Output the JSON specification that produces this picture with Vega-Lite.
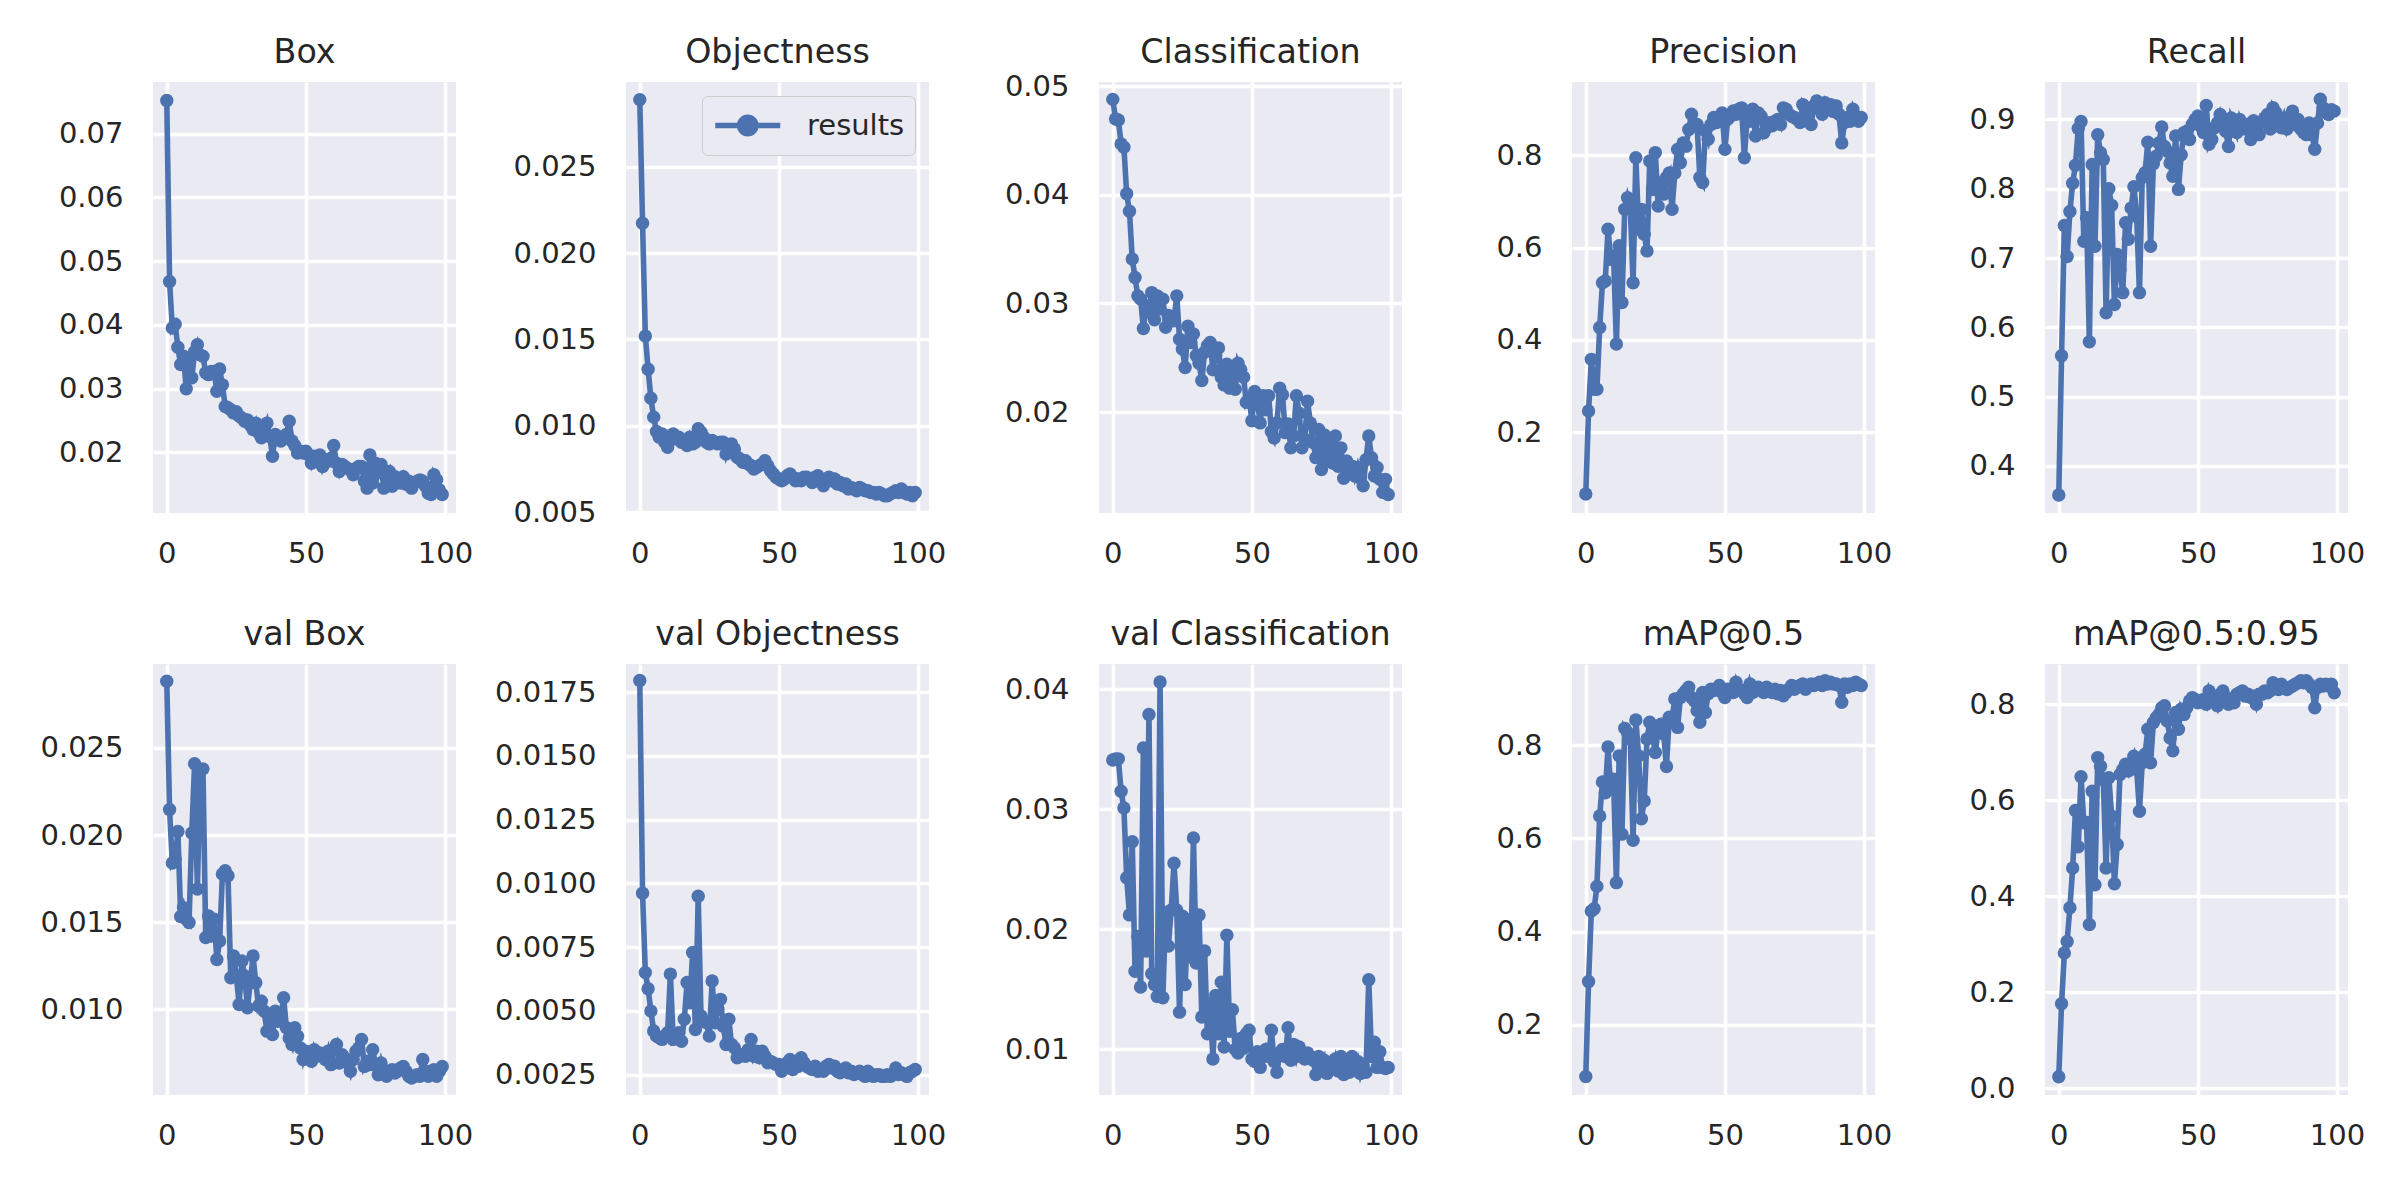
{
"$schema": "https://vega.github.io/schema/vega-lite/v6.json",
"background": "white",
"padding": {"left": 39, "top": 35, "right": 20, "bottom": 10},
"bounds": "flush",
"columns": 5,
"spacing": {"row": 151, "column": 170},
"resolve": {"legend": {"color": "independent"}, "scale": {"color": "independent"}},
"config": {
  "font": "DejaVu Sans",
  "view": {"fill": "#EAEAF2", "stroke": null},
  "axis": {"domain": false, "ticks": false, "grid": true, "gridColor": "white", "gridWidth": 3.5, "labelFont": "DejaVu Sans", "labelFontSize": 29, "labelColor": "#262626", "labelPadding": 30, "labelFlush": false, "labelOverlap": false},
  "axisX": {"labelPadding": 26},
  "title": {"fontSize": 33.3, "fontWeight": "normal", "color": "#262626", "font": "DejaVu Sans", "offset": 12, "baseline": "bottom", "frame": "group"},
  "line": {"color": "#4C72B0", "strokeWidth": 5.6},
  "point": {"color": "#4C72B0", "filled": true, "size": 180, "opacity": 1}
},
"data": {"values": [
{"e":0,"box":0.0752,"obj":0.02888,"cls":0.0488,"p":0.066,"r":0.358,"vbox":0.02881,"vobj":0.01795,"vcls":0.0341,"m50":0.089,"m95":0.024},
{"e":1,"box":0.0468,"obj":0.02172,"cls":0.0470,"p":0.246,"r":0.559,"vbox":0.02146,"vobj":0.00961,"vcls":0.0342,"m50":0.293,"m95":0.176},
{"e":2,"box":0.0395,"obj":0.01519,"cls":0.0469,"p":0.358,"r":0.747,"vbox":0.01839,"vobj":0.0065,"vcls":0.0342,"m50":0.444,"m95":0.282},
{"e":3,"box":0.0401,"obj":0.01327,"cls":0.0447,"p":0.293,"r":0.702,"vbox":0.01862,"vobj":0.00587,"vcls":0.0315,"m50":0.449,"m95":0.306},
{"e":4,"box":0.0365,"obj":0.01159,"cls":0.0444,"p":0.293,"r":0.767,"vbox":0.0202,"vobj":0.00499,"vcls":0.0301,"m50":0.497,"m95":0.376},
{"e":5,"box":0.0338,"obj":0.0105,"cls":0.0401,"p":0.427,"r":0.808,"vbox":0.01533,"vobj":0.00421,"vcls":0.0243,"m50":0.648,"m95":0.459},
{"e":6,"box":0.0351,"obj":0.00967,"cls":0.0385,"p":0.524,"r":0.834,"vbox":0.01584,"vobj":0.00401,"vcls":0.0212,"m50":0.721,"m95":0.579},
{"e":7,"box":0.0300,"obj":0.00934,"cls":0.0341,"p":0.528,"r":0.887,"vbox":0.01517,"vobj":0.00394,"vcls":0.0273,"m50":0.698,"m95":0.503},
{"e":8,"box":0.0340,"obj":0.00953,"cls":0.0324,"p":0.640,"r":0.897,"vbox":0.01498,"vobj":0.00388,"vcls":0.0165,"m50":0.796,"m95":0.649},
{"e":9,"box":0.0317,"obj":0.00905,"cls":0.0307,"p":0.575,"r":0.724,"vbox":0.02011,"vobj":0.00401,"vcls":0.0194,"m50":0.705,"m95":0.553},
{"e":10,"box":0.0358,"obj":0.00876,"cls":0.0304,"p":0.582,"r":0.758,"vbox":0.02408,"vobj":0.00414,"vcls":0.0152,"m50":0.727,"m95":0.554},
{"e":11,"box":0.0369,"obj":0.00934,"cls":0.0277,"p":0.391,"r":0.579,"vbox":0.0169,"vobj":0.00644,"vcls":0.0351,"m50":0.505,"m95":0.341},
{"e":12,"box":0.0353,"obj":0.00953,"cls":0.0298,"p":0.604,"r":0.835,"vbox":0.0237,"vobj":0.00388,"vcls":0.0182,"m50":0.777,"m95":0.619},
{"e":13,"box":0.0351,"obj":0.00924,"cls":0.0292,"p":0.481,"r":0.717,"vbox":0.02379,"vobj":0.00401,"vcls":0.0379,"m50":0.609,"m95":0.424},
{"e":14,"box":0.0325,"obj":0.00934,"cls":0.0310,"p":0.683,"r":0.878,"vbox":0.01412,"vobj":0.00414,"vcls":0.0163,"m50":0.836,"m95":0.689},
{"e":15,"box":0.0322,"obj":0.00905,"cls":0.0285,"p":0.708,"r":0.852,"vbox":0.01536,"vobj":0.00381,"vcls":0.0154,"m50":0.827,"m95":0.671},
{"e":16,"box":0.0327,"obj":0.00915,"cls":0.0307,"p":0.687,"r":0.842,"vbox":0.01421,"vobj":0.00467,"vcls":0.0144,"m50":0.813,"m95":0.643},
{"e":17,"box":0.0327,"obj":0.00886,"cls":0.0295,"p":0.524,"r":0.621,"vbox":0.01517,"vobj":0.00611,"vcls":0.0406,"m50":0.596,"m95":0.459},
{"e":18,"box":0.0296,"obj":0.00934,"cls":0.0304,"p":0.795,"r":0.800,"vbox":0.01287,"vobj":0.00532,"vcls":0.0143,"m50":0.854,"m95":0.647},
{"e":19,"box":0.0331,"obj":0.00895,"cls":0.0278,"p":0.640,"r":0.776,"vbox":0.01393,"vobj":0.00729,"vcls":0.0214,"m50":0.777,"m95":0.567},
{"e":20,"box":0.0306,"obj":0.00905,"cls":0.0289,"p":0.683,"r":0.633,"vbox":0.01776,"vobj":0.00427,"vcls":0.0186,"m50":0.642,"m95":0.426},
{"e":21,"box":0.0272,"obj":0.00983,"cls":0.0285,"p":0.629,"r":0.705,"vbox":0.01795,"vobj":0.00949,"vcls":0.0216,"m50":0.680,"m95":0.508},
{"e":22,"box":0.0270,"obj":0.00963,"cls":0.0284,"p":0.593,"r":0.683,"vbox":0.01766,"vobj":0.0048,"vcls":0.0255,"m50":0.813,"m95":0.654},
{"e":23,"box":0.0267,"obj":0.00934,"cls":0.0307,"p":0.788,"r":0.650,"vbox":0.01182,"vobj":0.0046,"vcls":0.0216,"m50":0.849,"m95":0.664},
{"e":24,"box":0.0262,"obj":0.00905,"cls":0.0267,"p":0.726,"r":0.751,"vbox":0.01307,"vobj":0.00453,"vcls":0.0131,"m50":0.820,"m95":0.675},
{"e":25,"box":0.0264,"obj":0.00895,"cls":0.0258,"p":0.806,"r":0.727,"vbox":0.01192,"vobj":0.00401,"vcls":0.0211,"m50":0.784,"m95":0.661},
{"e":26,"box":0.0257,"obj":0.00915,"cls":0.0241,"p":0.690,"r":0.772,"vbox":0.01029,"vobj":0.00617,"vcls":0.0154,"m50":0.834,"m95":0.678},
{"e":27,"box":0.0254,"obj":0.00905,"cls":0.0279,"p":0.741,"r":0.803,"vbox":0.01278,"vobj":0.00453,"vcls":0.0208,"m50":0.845,"m95":0.692},
{"e":28,"box":0.0249,"obj":0.00895,"cls":0.0264,"p":0.716,"r":0.760,"vbox":0.01192,"vobj":0.00506,"vcls":0.0177,"m50":0.824,"m95":0.664},
{"e":29,"box":0.0251,"obj":0.00905,"cls":0.0272,"p":0.752,"r":0.650,"vbox":0.0101,"vobj":0.00545,"vcls":0.0276,"m50":0.754,"m95":0.577},
{"e":30,"box":0.0243,"obj":0.00905,"cls":0.0252,"p":0.762,"r":0.816,"vbox":0.01153,"vobj":0.0044,"vcls":0.0172,"m50":0.860,"m95":0.678},
{"e":31,"box":0.0236,"obj":0.00837,"cls":0.0245,"p":0.683,"r":0.823,"vbox":0.01307,"vobj":0.00368,"vcls":0.0212,"m50":0.856,"m95":0.696},
{"e":32,"box":0.0246,"obj":0.00886,"cls":0.0229,"p":0.762,"r":0.867,"vbox":0.01153,"vobj":0.00467,"vcls":0.0127,"m50":0.899,"m95":0.748},
{"e":33,"box":0.0231,"obj":0.00895,"cls":0.0255,"p":0.813,"r":0.717,"vbox":0.0102,"vobj":0.00368,"vcls":0.0182,"m50":0.838,"m95":0.678},
{"e":34,"box":0.0223,"obj":0.00866,"cls":0.0261,"p":0.784,"r":0.836,"vbox":0.01048,"vobj":0.00355,"vcls":0.0113,"m50":0.902,"m95":0.762},
{"e":35,"box":0.0233,"obj":0.00818,"cls":0.0264,"p":0.827,"r":0.847,"vbox":0.0099,"vobj":0.00316,"vcls":0.0138,"m50":0.910,"m95":0.772},
{"e":36,"box":0.0246,"obj":0.00808,"cls":0.0239,"p":0.820,"r":0.866,"vbox":0.00876,"vobj":0.00322,"vcls":0.0092,"m50":0.917,"m95":0.779},
{"e":37,"box":0.0225,"obj":0.00789,"cls":0.0252,"p":0.856,"r":0.889,"vbox":0.00962,"vobj":0.00329,"vcls":0.0145,"m50":0.924,"m95":0.793},
{"e":38,"box":0.0194,"obj":0.00798,"cls":0.0259,"p":0.889,"r":0.861,"vbox":0.00856,"vobj":0.00322,"vcls":0.0113,"m50":0.902,"m95":0.797},
{"e":39,"box":0.0228,"obj":0.00779,"cls":0.0232,"p":0.864,"r":0.854,"vbox":0.0099,"vobj":0.00348,"vcls":0.0156,"m50":0.895,"m95":0.765},
{"e":40,"box":0.0225,"obj":0.00769,"cls":0.0225,"p":0.867,"r":0.837,"vbox":0.00933,"vobj":0.00388,"vcls":0.0102,"m50":0.874,"m95":0.730},
{"e":41,"box":0.0218,"obj":0.0075,"cls":0.0244,"p":0.752,"r":0.818,"vbox":0.00962,"vobj":0.00322,"vcls":0.0195,"m50":0.849,"m95":0.703},
{"e":42,"box":0.0223,"obj":0.0076,"cls":0.0222,"p":0.741,"r":0.876,"vbox":0.01067,"vobj":0.00342,"vcls":0.0115,"m50":0.913,"m95":0.783},
{"e":43,"box":0.0228,"obj":0.00769,"cls":0.0242,"p":0.853,"r":0.799,"vbox":0.00895,"vobj":0.00316,"vcls":0.0133,"m50":0.870,"m95":0.748},
{"e":44,"box":0.0249,"obj":0.00779,"cls":0.0221,"p":0.835,"r":0.849,"vbox":0.00837,"vobj":0.00342,"vcls":0.0100,"m50":0.910,"m95":0.790},
{"e":45,"box":0.0218,"obj":0.00798,"cls":0.0245,"p":0.867,"r":0.881,"vbox":0.00799,"vobj":0.00322,"vcls":0.0097,"m50":0.920,"m95":0.779},
{"e":46,"box":0.0211,"obj":0.00769,"cls":0.0239,"p":0.882,"r":0.883,"vbox":0.00895,"vobj":0.00296,"vcls":0.0109,"m50":0.917,"m95":0.793},
{"e":47,"box":0.0199,"obj":0.0074,"cls":0.0232,"p":0.871,"r":0.871,"vbox":0.00847,"vobj":0.00302,"vcls":0.0101,"m50":0.920,"m95":0.807},
{"e":48,"box":0.0202,"obj":0.00721,"cls":0.0209,"p":0.878,"r":0.893,"vbox":0.0078,"vobj":0.00296,"vcls":0.0113,"m50":0.928,"m95":0.814},
{"e":49,"box":0.0199,"obj":0.00702,"cls":0.0213,"p":0.892,"r":0.900,"vbox":0.00713,"vobj":0.0029,"vcls":0.0116,"m50":0.913,"m95":0.810},
{"e":50,"box":0.0202,"obj":0.00692,"cls":0.0192,"p":0.813,"r":0.905,"vbox":0.00761,"vobj":0.0029,"vcls":0.0092,"m50":0.902,"m95":0.803},
{"e":51,"box":0.0196,"obj":0.00682,"cls":0.0219,"p":0.878,"r":0.890,"vbox":0.00732,"vobj":0.00263,"vcls":0.0090,"m50":0.920,"m95":0.807},
{"e":52,"box":0.0183,"obj":0.00692,"cls":0.0209,"p":0.885,"r":0.881,"vbox":0.00703,"vobj":0.00283,"vcls":0.0098,"m50":0.917,"m95":0.810},
{"e":53,"box":0.0194,"obj":0.00711,"cls":0.0190,"p":0.896,"r":0.920,"vbox":0.0077,"vobj":0.00296,"vcls":0.0085,"m50":0.913,"m95":0.800},
{"e":54,"box":0.0191,"obj":0.00721,"cls":0.0215,"p":0.889,"r":0.864,"vbox":0.00732,"vobj":0.00309,"vcls":0.0094,"m50":0.935,"m95":0.828},
{"e":55,"box":0.0196,"obj":0.00702,"cls":0.0202,"p":0.900,"r":0.871,"vbox":0.00751,"vobj":0.0027,"vcls":0.0100,"m50":0.920,"m95":0.814},
{"e":56,"box":0.0178,"obj":0.00682,"cls":0.0215,"p":0.903,"r":0.888,"vbox":0.00741,"vobj":0.0029,"vcls":0.0094,"m50":0.917,"m95":0.810},
{"e":57,"box":0.0189,"obj":0.00692,"cls":0.0182,"p":0.795,"r":0.895,"vbox":0.00713,"vobj":0.00283,"vcls":0.0116,"m50":0.910,"m95":0.797},
{"e":58,"box":0.0186,"obj":0.00682,"cls":0.0176,"p":0.882,"r":0.907,"vbox":0.00761,"vobj":0.00316,"vcls":0.0090,"m50":0.902,"m95":0.821},
{"e":59,"box":0.0191,"obj":0.00702,"cls":0.0190,"p":0.874,"r":0.895,"vbox":0.00684,"vobj":0.00296,"vcls":0.0081,"m50":0.931,"m95":0.828},
{"e":60,"box":0.0211,"obj":0.00702,"cls":0.0222,"p":0.900,"r":0.883,"vbox":0.0077,"vobj":0.00283,"vcls":0.0097,"m50":0.913,"m95":0.814},
{"e":61,"box":0.0183,"obj":0.00692,"cls":0.0216,"p":0.842,"r":0.861,"vbox":0.00799,"vobj":0.00276,"vcls":0.0100,"m50":0.920,"m95":0.800},
{"e":62,"box":0.0170,"obj":0.00672,"cls":0.0181,"p":0.892,"r":0.902,"vbox":0.00693,"vobj":0.0027,"vcls":0.0094,"m50":0.924,"m95":0.810},
{"e":63,"box":0.0181,"obj":0.00702,"cls":0.0189,"p":0.885,"r":0.893,"vbox":0.00741,"vobj":0.00283,"vcls":0.0118,"m50":0.917,"m95":0.803},
{"e":64,"box":0.0178,"obj":0.00711,"cls":0.0167,"p":0.849,"r":0.881,"vbox":0.00722,"vobj":0.00263,"vcls":0.0091,"m50":0.913,"m95":0.821},
{"e":65,"box":0.0175,"obj":0.00682,"cls":0.0178,"p":0.860,"r":0.900,"vbox":0.00693,"vobj":0.0027,"vcls":0.0104,"m50":0.924,"m95":0.824},
{"e":66,"box":0.0173,"obj":0.00653,"cls":0.0215,"p":0.871,"r":0.890,"vbox":0.00646,"vobj":0.00263,"vcls":0.0094,"m50":0.917,"m95":0.828},
{"e":67,"box":0.0165,"obj":0.00692,"cls":0.0199,"p":0.864,"r":0.886,"vbox":0.00713,"vobj":0.00283,"vcls":0.0102,"m50":0.913,"m95":0.817},
{"e":68,"box":0.0175,"obj":0.00702,"cls":0.0167,"p":0.874,"r":0.893,"vbox":0.00761,"vobj":0.0029,"vcls":0.0097,"m50":0.920,"m95":0.821},
{"e":69,"box":0.0178,"obj":0.00682,"cls":0.0175,"p":0.878,"r":0.871,"vbox":0.0078,"vobj":0.00276,"vcls":0.0092,"m50":0.910,"m95":0.814},
{"e":70,"box":0.0178,"obj":0.00692,"cls":0.0210,"p":0.867,"r":0.898,"vbox":0.00828,"vobj":0.00283,"vcls":0.0097,"m50":0.917,"m95":0.817},
{"e":71,"box":0.0155,"obj":0.00663,"cls":0.0190,"p":0.903,"r":0.883,"vbox":0.00674,"vobj":0.00263,"vcls":0.0094,"m50":0.906,"m95":0.800},
{"e":72,"box":0.0144,"obj":0.00672,"cls":0.0172,"p":0.900,"r":0.878,"vbox":0.00703,"vobj":0.00257,"vcls":0.0091,"m50":0.913,"m95":0.821},
{"e":73,"box":0.0196,"obj":0.00653,"cls":0.0158,"p":0.889,"r":0.895,"vbox":0.00684,"vobj":0.00263,"vcls":0.0079,"m50":0.920,"m95":0.821},
{"e":74,"box":0.0152,"obj":0.00663,"cls":0.0184,"p":0.885,"r":0.902,"vbox":0.0077,"vobj":0.00276,"vcls":0.0094,"m50":0.928,"m95":0.828},
{"e":75,"box":0.0183,"obj":0.00634,"cls":0.0147,"p":0.882,"r":0.907,"vbox":0.00684,"vobj":0.00257,"vcls":0.0085,"m50":0.920,"m95":0.824},
{"e":76,"box":0.0168,"obj":0.00643,"cls":0.0179,"p":0.878,"r":0.886,"vbox":0.00626,"vobj":0.00263,"vcls":0.0091,"m50":0.924,"m95":0.828},
{"e":77,"box":0.0181,"obj":0.00634,"cls":0.0155,"p":0.871,"r":0.917,"vbox":0.00693,"vobj":0.0025,"vcls":0.0080,"m50":0.928,"m95":0.845},
{"e":78,"box":0.0144,"obj":0.00624,"cls":0.0172,"p":0.910,"r":0.910,"vbox":0.00636,"vobj":0.00257,"vcls":0.0088,"m50":0.931,"m95":0.835},
{"e":79,"box":0.0162,"obj":0.00643,"cls":0.0153,"p":0.900,"r":0.895,"vbox":0.00617,"vobj":0.00263,"vcls":0.0085,"m50":0.920,"m95":0.831},
{"e":80,"box":0.0170,"obj":0.00634,"cls":0.0178,"p":0.889,"r":0.888,"vbox":0.00646,"vobj":0.0025,"vcls":0.0092,"m50":0.928,"m95":0.842},
{"e":81,"box":0.0147,"obj":0.00624,"cls":0.0150,"p":0.867,"r":0.902,"vbox":0.00655,"vobj":0.00243,"vcls":0.0082,"m50":0.931,"m95":0.835},
{"e":82,"box":0.0162,"obj":0.00624,"cls":0.0167,"p":0.907,"r":0.886,"vbox":0.00636,"vobj":0.00263,"vcls":0.0094,"m50":0.928,"m95":0.831},
{"e":83,"box":0.0157,"obj":0.00614,"cls":0.0139,"p":0.918,"r":0.895,"vbox":0.00646,"vobj":0.0025,"vcls":0.0079,"m50":0.931,"m95":0.835},
{"e":84,"box":0.0152,"obj":0.00614,"cls":0.0155,"p":0.900,"r":0.912,"vbox":0.00665,"vobj":0.00243,"vcls":0.0091,"m50":0.935,"m95":0.838},
{"e":85,"box":0.0162,"obj":0.00605,"cls":0.0144,"p":0.889,"r":0.893,"vbox":0.00674,"vobj":0.0025,"vcls":0.0081,"m50":0.928,"m95":0.842},
{"e":86,"box":0.0150,"obj":0.00614,"cls":0.0150,"p":0.914,"r":0.900,"vbox":0.00646,"vobj":0.0025,"vcls":0.0094,"m50":0.938,"m95":0.845},
{"e":87,"box":0.0155,"obj":0.00605,"cls":0.0141,"p":0.903,"r":0.886,"vbox":0.00617,"vobj":0.00243,"vcls":0.0084,"m50":0.931,"m95":0.849},
{"e":88,"box":0.0144,"obj":0.00595,"cls":0.0149,"p":0.910,"r":0.881,"vbox":0.00607,"vobj":0.00243,"vcls":0.0090,"m50":0.935,"m95":0.845},
{"e":89,"box":0.0152,"obj":0.00595,"cls":0.0139,"p":0.895,"r":0.878,"vbox":0.00617,"vobj":0.0025,"vcls":0.0080,"m50":0.931,"m95":0.849},
{"e":90,"box":0.0155,"obj":0.00605,"cls":0.0132,"p":0.907,"r":0.895,"vbox":0.00626,"vobj":0.00243,"vcls":0.0087,"m50":0.931,"m95":0.842},
{"e":91,"box":0.0157,"obj":0.00614,"cls":0.0156,"p":0.889,"r":0.878,"vbox":0.00617,"vobj":0.0025,"vcls":0.0081,"m50":0.928,"m95":0.835},
{"e":92,"box":0.0155,"obj":0.00624,"cls":0.0178,"p":0.827,"r":0.857,"vbox":0.00713,"vobj":0.00276,"vcls":0.0158,"m50":0.892,"m95":0.793},
{"e":93,"box":0.0147,"obj":0.00614,"cls":0.0158,"p":0.871,"r":0.895,"vbox":0.00646,"vobj":0.0025,"vcls":0.0094,"m50":0.931,"m95":0.835},
{"e":94,"box":0.0136,"obj":0.00634,"cls":0.0141,"p":0.882,"r":0.929,"vbox":0.00617,"vobj":0.00257,"vcls":0.0106,"m50":0.924,"m95":0.842},
{"e":95,"box":0.0134,"obj":0.00614,"cls":0.0149,"p":0.874,"r":0.917,"vbox":0.00646,"vobj":0.0025,"vcls":0.0085,"m50":0.931,"m95":0.838},
{"e":96,"box":0.0165,"obj":0.00605,"cls":0.0138,"p":0.900,"r":0.910,"vbox":0.00655,"vobj":0.00243,"vcls":0.0098,"m50":0.928,"m95":0.842},
{"e":97,"box":0.0157,"obj":0.00614,"cls":0.0126,"p":0.885,"r":0.907,"vbox":0.00617,"vobj":0.00257,"vcls":0.0085,"m50":0.935,"m95":0.838},
{"e":98,"box":0.0141,"obj":0.00595,"cls":0.0138,"p":0.874,"r":0.914,"vbox":0.00646,"vobj":0.00263,"vcls":0.0084,"m50":0.931,"m95":0.842},
{"e":99,"box":0.0134,"obj":0.00614,"cls":0.0124,"p":0.882,"r":0.912,"vbox":0.00674,"vobj":0.0027,"vcls":0.0085,"m50":0.928,"m95":0.824}
]},
"concat": [
{"title": "Box", "width": 303, "height": 431,
 "mark": {"type": "line", "point": true},
 "encoding": {
  "x": {"field": "e", "type": "quantitative", "title": null, "scale": {"domain": [-4.95, 103.95], "nice": false, "zero": false}, "axis": {"values": [0, 50, 100]}},
  "y": {"field": "box", "type": "quantitative", "title": null, "scale": {"domain": [0.0105, 0.0781], "nice": false, "zero": false}, "axis": {"values": [0.02, 0.03, 0.04, 0.05, 0.06, 0.07], "format": ".2f"}}}},
{"title": "Objectness", "width": 303, "height": 431,
 "mark": {"type": "line", "point": true},
 "encoding": {
  "x": {"field": "e", "type": "quantitative", "title": null, "scale": {"domain": [-4.95, 103.95], "nice": false, "zero": false}, "axis": {"values": [0, 50, 100]}},
  "y": {"field": "obj", "type": "quantitative", "title": null, "scale": {"domain": [0.00495, 0.0299], "nice": false, "zero": false}, "axis": {"values": [0.005, 0.010, 0.015, 0.020, 0.025], "format": ".3f"}},
  "color": {"datum": "results", "type": "nominal", "scale": {"range": ["#4C72B0"]},
   "legend": {"title": null, "orient": "top-right", "offset": 14, "padding": 10, "fillColor": "#EAEAF2", "strokeColor": "#CCCCCC", "cornerRadius": 6, "labelFontSize": 29, "labelColor": "#262626", "labelFont": "DejaVu Sans", "labelOffset": 56, "symbolType": "M-1,0L3,0M1.5,0A0.5,0.5,0,1,1,0.5,0A0.5,0.5,0,1,1,1.5,0Z", "symbolSize": 1056, "symbolStrokeWidth": 5.6, "symbolStrokeColor": "#4C72B0", "symbolFillColor": "#4C72B0",
    "encode": {"legend": {"update": {"strokeWidth": {"value": 2}}}, "symbols": {"update": {"fill": {"value": "#4C72B0"}, "stroke": {"value": "#4C72B0"}, "strokeWidth": {"value": 5.6}, "opacity": {"value": 1}}}}}}}},
{"title": {"text": "Classification", "offset": 1.8}, "width": 303, "height": 431,
 "mark": {"type": "line", "point": true},
 "encoding": {
  "x": {"field": "e", "type": "quantitative", "title": null, "scale": {"domain": [-4.95, 103.95], "nice": false, "zero": false}, "axis": {"values": [0, 50, 100]}},
  "y": {"field": "cls", "type": "quantitative", "title": null, "scale": {"domain": [0.0107, 0.0504], "nice": false, "zero": false}, "axis": {"values": [0.02, 0.03, 0.04, 0.05], "format": ".2f"}}}},
{"title": "Precision", "width": 303, "height": 431,
 "mark": {"type": "line", "point": true},
 "encoding": {
  "x": {"field": "e", "type": "quantitative", "title": null, "scale": {"domain": [-4.95, 103.95], "nice": false, "zero": false}, "axis": {"values": [0, 50, 100]}},
  "y": {"field": "p", "type": "quantitative", "title": null, "scale": {"domain": [0.025, 0.959], "nice": false, "zero": false}, "axis": {"values": [0.2, 0.4, 0.6, 0.8], "format": ".1f"}}}},
{"title": "Recall", "width": 303, "height": 431,
 "mark": {"type": "line", "point": true},
 "encoding": {
  "x": {"field": "e", "type": "quantitative", "title": null, "scale": {"domain": [-4.95, 103.95], "nice": false, "zero": false}, "axis": {"values": [0, 50, 100]}},
  "y": {"field": "r", "type": "quantitative", "title": null, "scale": {"domain": [0.332, 0.954], "nice": false, "zero": false}, "axis": {"values": [0.4, 0.5, 0.6, 0.7, 0.8, 0.9], "format": ".1f"}}}},
{"title": "val Box", "width": 303, "height": 431,
 "mark": {"type": "line", "point": true},
 "encoding": {
  "x": {"field": "e", "type": "quantitative", "title": null, "scale": {"domain": [-4.95, 103.95], "nice": false, "zero": false}, "axis": {"values": [0, 50, 100]}},
  "y": {"field": "vbox", "type": "quantitative", "title": null, "scale": {"domain": [0.0051, 0.0298], "nice": false, "zero": false}, "axis": {"values": [0.010, 0.015, 0.020, 0.025], "format": ".3f"}}}},
{"title": "val Objectness", "width": 303, "height": 431,
 "mark": {"type": "line", "point": true},
 "encoding": {
  "x": {"field": "e", "type": "quantitative", "title": null, "scale": {"domain": [-4.95, 103.95], "nice": false, "zero": false}, "axis": {"values": [0, 50, 100]}},
  "y": {"field": "vobj", "type": "quantitative", "title": null, "scale": {"domain": [0.0017, 0.0186], "nice": false, "zero": false}, "axis": {"values": [0.0025, 0.005, 0.0075, 0.01, 0.0125, 0.015, 0.0175], "format": ".4f"}}}},
{"title": "val Classification", "width": 303, "height": 431,
 "mark": {"type": "line", "point": true},
 "encoding": {
  "x": {"field": "e", "type": "quantitative", "title": null, "scale": {"domain": [-4.95, 103.95], "nice": false, "zero": false}, "axis": {"values": [0, 50, 100]}},
  "y": {"field": "vcls", "type": "quantitative", "title": null, "scale": {"domain": [0.0062, 0.0421], "nice": false, "zero": false}, "axis": {"values": [0.01, 0.02, 0.03, 0.04], "format": ".2f"}}}},
{"title": "mAP@0.5", "width": 303, "height": 431,
 "mark": {"type": "line", "point": true},
 "encoding": {
  "x": {"field": "e", "type": "quantitative", "title": null, "scale": {"domain": [-4.95, 103.95], "nice": false, "zero": false}, "axis": {"values": [0, 50, 100]}},
  "y": {"field": "m50", "type": "quantitative", "title": null, "scale": {"domain": [0.0495, 0.974], "nice": false, "zero": false}, "axis": {"values": [0.2, 0.4, 0.6, 0.8], "format": ".1f"}}}},
{"title": "mAP@0.5:0.95", "width": 303, "height": 431,
 "mark": {"type": "line", "point": true},
 "encoding": {
  "x": {"field": "e", "type": "quantitative", "title": null, "scale": {"domain": [-4.95, 103.95], "nice": false, "zero": false}, "axis": {"values": [0, 50, 100]}},
  "y": {"field": "m95", "type": "quantitative", "title": null, "scale": {"domain": [-0.014, 0.884], "nice": false, "zero": false}, "axis": {"values": [0.0, 0.2, 0.4, 0.6, 0.8], "format": ".1f"}}}}
]
}
